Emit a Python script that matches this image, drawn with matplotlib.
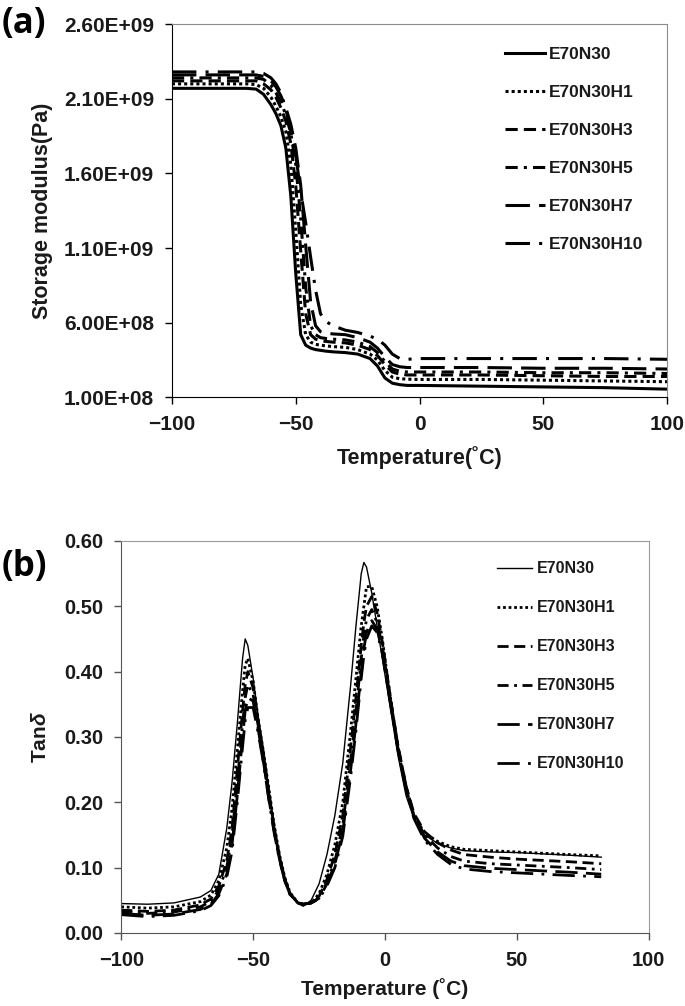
import numpy as np
import matplotlib
matplotlib.use("Agg")
import matplotlib.pyplot as plt
from matplotlib.ticker import FixedLocator, FuncFormatter

plt.rcParams['font.family'] = ['Liberation Sans', 'DejaVu Sans']
plt.rcParams['mathtext.fontset'] = 'custom'
plt.rcParams['mathtext.it'] = 'Liberation Sans:italic:bold'
plt.rcParams['mathtext.rm'] = 'Liberation Sans:bold'

labels = ["E70N30", "E70N30H1", "E70N30H3", "E70N30H5", "E70N30H7", "E70N30H10"]

# (a) storage modulus, values in 1e9 Pa
temp_a = [-100, -80, -70, -66, -63, -60, -58, -56, -54, -52, -50, -48, -46, -44, -42,
          -40, -38, -35, -30, -25, -20, -17, -14, -11, -8, -5, 0, 25, 50, 75, 100]
mod_e70n30 = [2.17, 2.17, 2.17, 2.165, 2.13, 2.06, 2.00, 1.92, 1.77, 1.45, 0.93, 0.52, 0.45, 0.43, 0.42,
              0.415, 0.41, 0.405, 0.40, 0.39, 0.36, 0.31, 0.23, 0.195, 0.185, 0.18, 0.18, 0.175, 0.17, 0.165, 0.155]
mod_h1 = [2.20, 2.20, 2.20, 2.195, 2.17, 2.11, 2.05, 1.98, 1.88, 1.66, 1.22, 0.72, 0.52, 0.47, 0.455,
          0.45, 0.445, 0.44, 0.435, 0.42, 0.39, 0.35, 0.28, 0.235, 0.225, 0.222, 0.22, 0.22, 0.215, 0.21, 0.205]
mod_h3 = [2.22, 2.22, 2.22, 2.22, 2.20, 2.16, 2.11, 2.04, 1.95, 1.80, 1.52, 1.08, 0.66, 0.52, 0.49,
          0.48, 0.475, 0.47, 0.465, 0.45, 0.42, 0.38, 0.32, 0.27, 0.255, 0.25, 0.25, 0.25, 0.245, 0.24, 0.24]
mod_h5 = [2.24, 2.24, 2.24, 2.24, 2.23, 2.19, 2.14, 2.08, 1.99, 1.87, 1.66, 1.30, 0.84, 0.58, 0.52,
          0.50, 0.495, 0.49, 0.485, 0.47, 0.44, 0.40, 0.34, 0.29, 0.275, 0.27, 0.27, 0.27, 0.265, 0.265, 0.26]
mod_h7 = [2.26, 2.26, 2.26, 2.26, 2.25, 2.22, 2.18, 2.12, 2.04, 1.93, 1.77, 1.52, 1.12, 0.74, 0.58,
          0.54, 0.53, 0.525, 0.52, 0.50, 0.47, 0.43, 0.37, 0.32, 0.305, 0.30, 0.30, 0.30, 0.295, 0.295, 0.29]
mod_h10 = [2.28, 2.28, 2.28, 2.28, 2.27, 2.24, 2.20, 2.14, 2.03, 1.88, 1.72, 1.48, 1.27, 1.04, 0.82,
           0.66, 0.61, 0.58, 0.55, 0.535, 0.51, 0.49, 0.45, 0.39, 0.36, 0.355, 0.36, 0.36, 0.36, 0.36, 0.355]

# (b) tan delta
temp_b = [-100, -90, -80, -70, -66, -63, -60, -58, -56, -54, -53, -52, -50, -48, -46, -44, -42,
          -40, -38, -36, -33, -31, -28, -25, -22, -19, -16, -13, -11, -9, -8, -7, -5, -3, -1,
          1, 3, 5, 8, 11, 15, 20, 25, 30, 40, 50, 60, 70, 82]
tan_e70n30 = [.045, .044, .046, .055, .065, .09, .16, .23, .32, .42, .45, .44, .39, .33, .28, .22, .165,
              .12, .085, .062, .045, .041, .05, .075, .12, .18, .26, .38, .47, .55, .567, .56, .52, .47, .42,
              .37, .32, .27, .21, .175, .15, .137, .13, .126, .124, .123, .121, .119, .116]
tan_h1 = [.04, .038, .04, .048, .058, .08, .13, .19, .28, .37, .41, .42, .385, .325, .275, .22, .165,
          .12, .085, .062, .046, .043, .046, .06, .09, .135, .2, .31, .39, .47, .5, .53, .53, .5, .45,
          .39, .335, .28, .22, .18, .153, .14, .132, .128, .126, .124, .122, .12, .118]
tan_h3 = [.035, .033, .035, .043, .052, .072, .11, .16, .25, .34, .38, .40, .375, .32, .27, .215, .16,
          .117, .083, .06, .046, .044, .046, .056, .082, .12, .18, .285, .36, .44, .475, .50, .515, .49, .445,
          .39, .335, .285, .225, .183, .155, .138, .127, .12, .116, .113, .111, .109, .106]
tan_h5 = [.032, .03, .032, .04, .048, .066, .10, .15, .23, .32, .36, .38, .365, .315, .265, .21, .158,
          .115, .082, .06, .046, .044, .046, .054, .078, .11, .165, .265, .34, .42, .455, .48, .495, .475, .44,
          .385, .335, .285, .225, .18, .15, .13, .117, .11, .106, .104, .102, .1, .097]
tan_h7 = [.03, .027, .029, .036, .044, .06, .09, .135, .21, .30, .34, .36, .355, .31, .26, .205, .155,
          .113, .08, .059, .046, .044, .046, .053, .075, .105, .155, .25, .32, .40, .435, .46, .478, .465, .43,
          .38, .33, .28, .222, .178, .145, .124, .11, .103, .099, .097, .095, .093, .09]
tan_h10 = [.028, .025, .027, .034, .042, .057, .085, .125, .2, .285, .325, .345, .345, .305, .258, .203, .153,
           .112, .08, .059, .046, .044, .046, .052, .072, .1, .148, .24, .31, .39, .425, .45, .47, .46, .428,
           .378, .328, .278, .22, .175, .142, .12, .105, .098, .094, .092, .09, .088, .086]

styles = ['-', (0, (1, 1)), (0, (4, 2)), (0, (4, 2, 1, 2)), (0, (8, 3)), (0, (8, 3, 1, 3))]


def style_axes(ax, dark, light, size):
    for side in ['left', 'bottom']:
        ax.spines[side].set_color(dark)
    for side in ['top', 'right']:
        ax.spines[side].set_color(light)
    ax.tick_params(direction='out', length=5, width=1, color=dark, labelsize=size, pad=8)
    for lab in ax.get_xticklabels() + ax.get_yticklabels():
        lab.set_fontweight('bold')
        lab.set_color('#1a1a1a')


fig = plt.figure(figsize=(6.85, 10.06), dpi=100)

# ---- (a) ----
ax1 = fig.add_axes([0.251, 0.605, 0.723, 0.371])
mods = [mod_e70n30, mod_h1, mod_h3, mod_h5, mod_h7, mod_h10]
for lab, vals, ls in zip(labels, mods, styles):
    ax1.plot(temp_a, np.array(vals) * 1e9, color='black', linestyle=ls, lw=2.2, label=lab)
ax1.set_xlim(-100, 100)
ax1.set_ylim(1.0e8, 2.6e9)
ax1.yaxis.set_major_locator(FixedLocator([1.0e8, 6.0e8, 1.1e9, 1.6e9, 2.1e9, 2.6e9]))
ax1.yaxis.set_major_formatter(FuncFormatter(lambda v, p: f"{v:.2E}"))
ax1.xaxis.set_major_locator(FixedLocator([-100, -50, 0, 50, 100]))
style_axes(ax1, 'black', '#8c8c8c', 15)
ax1.set_xlabel("Temperature(˚C)", fontsize=15.5, fontweight='bold', color='#1a1a1a', labelpad=8)
ax1.set_ylabel("Storage modulus(Pa)", fontsize=15.5, fontweight='bold', color='#1a1a1a', labelpad=8)
leg1 = ax1.legend(loc='upper left', bbox_to_anchor=(0.655, 0.962), frameon=False, borderpad=0,
                  handlelength=2.3, handletextpad=0.25, labelspacing=1.31,
                  prop={'weight': 'bold', 'size': 12.5})
for t in leg1.get_texts():
    t.set_color('#1a1a1a')
fig.text(0.002, 0.976, "(a)", fontsize=25, fontweight='bold', family='Open Sans', va='center', ha='left')

# ---- (b) ----
ax2 = fig.add_axes([0.177, 0.0726, 0.770, 0.3897])
tans = [tan_e70n30, tan_h1, tan_h3, tan_h5, tan_h7, tan_h10]
for i, (lab, vals, ls) in enumerate(zip(labels, tans, styles)):
    ax2.plot(temp_b, vals, color='black', linestyle=ls, lw=1.0 if i == 0 else 2.0, label=lab)
ax2.set_xlim(-100, 100)
ax2.set_ylim(0, 0.6)
ax2.yaxis.set_major_locator(FixedLocator([0, 0.1, 0.2, 0.3, 0.4, 0.5, 0.6]))
ax2.yaxis.set_major_formatter(FuncFormatter(lambda v, p: f"{v:.2f}"))
ax2.xaxis.set_major_locator(FixedLocator([-100, -50, 0, 50, 100]))
style_axes(ax2, '#555555', '#9a9a9a', 14.5)
ax2.set_xlabel("Temperature (˚C)", fontsize=15, fontweight='bold', color='#1a1a1a', labelpad=6)
ax2.set_ylabel(r"Tan$\mathit{\delta}$", fontsize=15, fontweight='bold', color='#1a1a1a', labelpad=10)
leg2 = ax2.legend(loc='upper left', bbox_to_anchor=(0.697, 0.968), frameon=False, borderpad=0,
                  handlelength=2.2, handletextpad=0.3, labelspacing=1.5,
                  prop={'weight': 'bold', 'size': 11.5})
for t in leg2.get_texts():
    t.set_color('#1a1a1a')
fig.text(0.002, 0.436, "(b)", fontsize=25, fontweight='bold', family='Open Sans', va='center', ha='left')

fig.savefig("out.png", dpi=100)
